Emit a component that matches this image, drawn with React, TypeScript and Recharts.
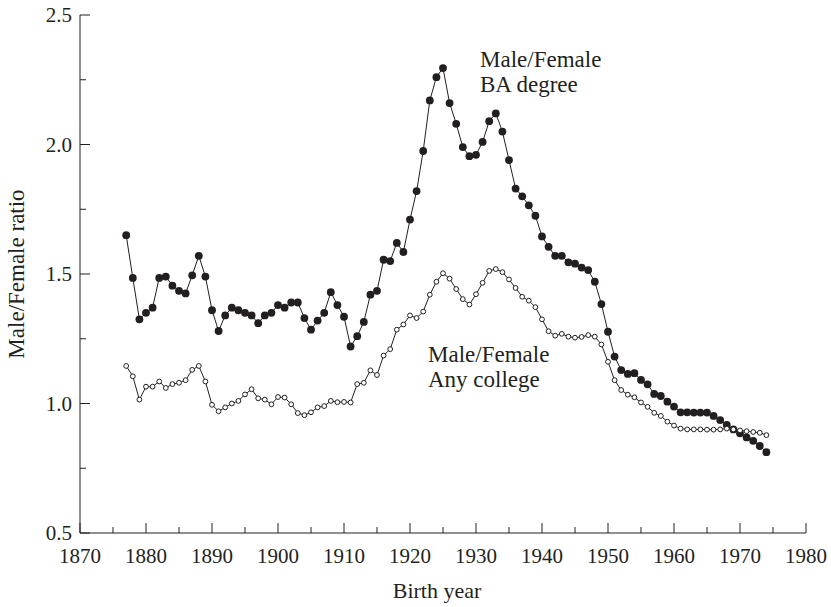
import { LineChart, Line, XAxis, YAxis, Customized } from "recharts";

const ink = "#231f20";
const serif = "Liberation Serif, DejaVu Serif, serif";

// birth years, one point per cohort
const years = [
  1877, 1878, 1879, 1880, 1881, 1882, 1883, 1884, 1885, 1886,
  1887, 1888, 1889, 1890, 1891, 1892, 1893, 1894, 1895, 1896,
  1897, 1898, 1899, 1900, 1901, 1902, 1903, 1904, 1905, 1906,
  1907, 1908, 1909, 1910, 1911, 1912, 1913, 1914, 1915, 1916,
  1917, 1918, 1919, 1920, 1921, 1922, 1923, 1924, 1925, 1926,
  1927, 1928, 1929, 1930, 1931, 1932, 1933, 1934, 1935, 1936,
  1937, 1938, 1939, 1940, 1941, 1942, 1943, 1944, 1945, 1946,
  1947, 1948, 1949, 1950, 1951, 1952, 1953, 1954, 1955, 1956,
  1957, 1958, 1959, 1960, 1961, 1962, 1963, 1964, 1965, 1966,
  1967, 1968, 1969, 1970, 1971, 1972, 1973, 1974,
];

// Male/Female ratio, BA degree (filled dots)
const baDegree = [
  1.65, 1.485, 1.325, 1.35, 1.37, 1.485, 1.49, 1.455, 1.435, 1.425,
  1.495, 1.57, 1.49, 1.36, 1.28, 1.34, 1.37, 1.36, 1.35, 1.34,
  1.31, 1.34, 1.35, 1.38, 1.37, 1.39, 1.39, 1.33, 1.285, 1.32,
  1.35, 1.43, 1.38, 1.335, 1.22, 1.26, 1.315, 1.42, 1.435, 1.555,
  1.55, 1.62, 1.585, 1.71, 1.82, 1.975, 2.17, 2.26, 2.295, 2.16,
  2.08, 1.99, 1.955, 1.96, 2.01, 2.09, 2.12, 2.05, 1.94, 1.83,
  1.8, 1.765, 1.725, 1.645, 1.605, 1.57, 1.57, 1.545, 1.54, 1.525,
  1.515, 1.47, 1.384, 1.277, 1.181, 1.129, 1.114, 1.117, 1.091, 1.074,
  1.037, 1.029, 1.007, 0.988, 0.966, 0.966, 0.965, 0.965, 0.965, 0.952,
  0.936, 0.917, 0.9, 0.885, 0.869, 0.856, 0.836, 0.812,
];

// Male/Female ratio, any college (open dots)
const anyCollege = [
  1.145, 1.105, 1.015, 1.065, 1.065, 1.085, 1.06, 1.075, 1.08, 1.09,
  1.13, 1.145, 1.085, 0.995, 0.97, 0.985, 1.0, 1.01, 1.035, 1.055,
  1.02, 1.015, 0.997, 1.025, 1.023, 0.997, 0.963, 0.955, 0.966, 0.985,
  0.99, 1.01, 1.005, 1.006, 1.004, 1.075, 1.08, 1.128, 1.11, 1.185,
  1.21, 1.285, 1.305, 1.34, 1.33, 1.355, 1.42, 1.47, 1.503, 1.482,
  1.442, 1.403, 1.382, 1.422, 1.466, 1.512, 1.519, 1.507, 1.479, 1.446,
  1.412, 1.397, 1.372, 1.325, 1.279, 1.262, 1.269, 1.258, 1.254, 1.257,
  1.264, 1.258, 1.228, 1.161, 1.09, 1.052, 1.034, 1.024, 1.004, 0.987,
  0.964, 0.952, 0.93, 0.915, 0.903, 0.9, 0.9, 0.9, 0.899, 0.899,
  0.9, 0.903, 0.9, 0.896, 0.893, 0.89, 0.887, 0.878,
];

const xTicks = [
  1870, 1875, 1880, 1885, 1890, 1895, 1900, 1905, 1910, 1915, 1920, 1925,
  1930, 1935, 1940, 1945, 1950, 1955, 1960, 1965, 1970, 1975, 1980,
];
const yTicks = [0.5, 0.75, 1, 1.25, 1.5, 1.75, 2, 2.25, 2.5];

const data = years.map((year, i) => ({
  year,
  ba: baDegree[i],
  college: anyCollege[i],
}));

const txt = { fill: ink, fontFamily: serif };

function XTick(props: any) {
  const { x, y, payload } = props;
  const major = payload.value % 10 === 0;
  return (
    <g>
      <line x1={x} y1={y} x2={x} y2={y - (major ? 10 : 6)} stroke={ink} />
      {major && (
        <text x={x} y={y + 30} textAnchor="middle" style={{ ...txt, fontSize: 21 }}>
          {payload.value}
        </text>
      )}
    </g>
  );
}

function YTick(props: any) {
  const { x, y, payload } = props;
  const major = (payload.value * 2) % 1 === 0;
  return (
    <g>
      <line x1={x} y1={y} x2={x + (major ? 10 : 6)} y2={y} stroke={ink} />
      {major && (
        <text x={x - 8} y={y} dy="0.35em" textAnchor="end" style={{ ...txt, fontSize: 21 }}>
          {payload.value.toFixed(1)}
        </text>
      )}
    </g>
  );
}

function Notes() {
  const t = { ...txt, fontSize: 23 };
  return (
    <g>
      <text x={480} y={67} style={t}>Male/Female</text>
      <text x={480} y={92} style={t}>BA degree</text>
      <text x={428} y={362} style={t}>Male/Female</text>
      <text x={428} y={387} style={t}>Any college</text>
      <text x={437} y={598} textAnchor="middle" style={{ ...txt, fontSize: 22 }}>
        Birth year
      </text>
      <text
        x={16}
        y={274}
        transform="rotate(-90 16 274)"
        textAnchor="middle"
        dy="0.35em"
        style={{ ...txt, fontSize: 23 }}
      >
        Male/Female ratio
      </text>
    </g>
  );
}

export default function App() {
  return (
    <div style={{ position: "absolute", left: 0, top: 0, background: "#fff" }}>
      <LineChart
        width={831}
        height={607}
        data={data}
        margin={{ top: 15, right: 25, bottom: 34, left: 0 }}
      >
        <XAxis
          dataKey="year"
          type="number"
          domain={[1870, 1980]}
          ticks={xTicks}
          interval={0}
          height={40}
          tickSize={0}
          tickMargin={0}
          tickLine={false}
          axisLine={{ stroke: ink }}
          tick={<XTick />}
        />
        <YAxis
          type="number"
          domain={[0.5, 2.5]}
          ticks={yTicks}
          interval={0}
          width={80}
          tickSize={0}
          tickMargin={0}
          tickLine={false}
          axisLine={{ stroke: ink }}
          tick={<YTick />}
        />
        <Line
          dataKey="ba"
          type="linear"
          stroke={ink}
          strokeWidth={1}
          dot={{ r: 3.9, fill: ink, stroke: ink, strokeWidth: 0 }}
          isAnimationActive={false}
        />
        <Line
          dataKey="college"
          type="linear"
          stroke={ink}
          strokeWidth={1}
          dot={{ r: 2.4, fill: "#fff", stroke: ink, strokeWidth: 1 }}
          isAnimationActive={false}
        />
        <Customized component={Notes} />
      </LineChart>
    </div>
  );
}
